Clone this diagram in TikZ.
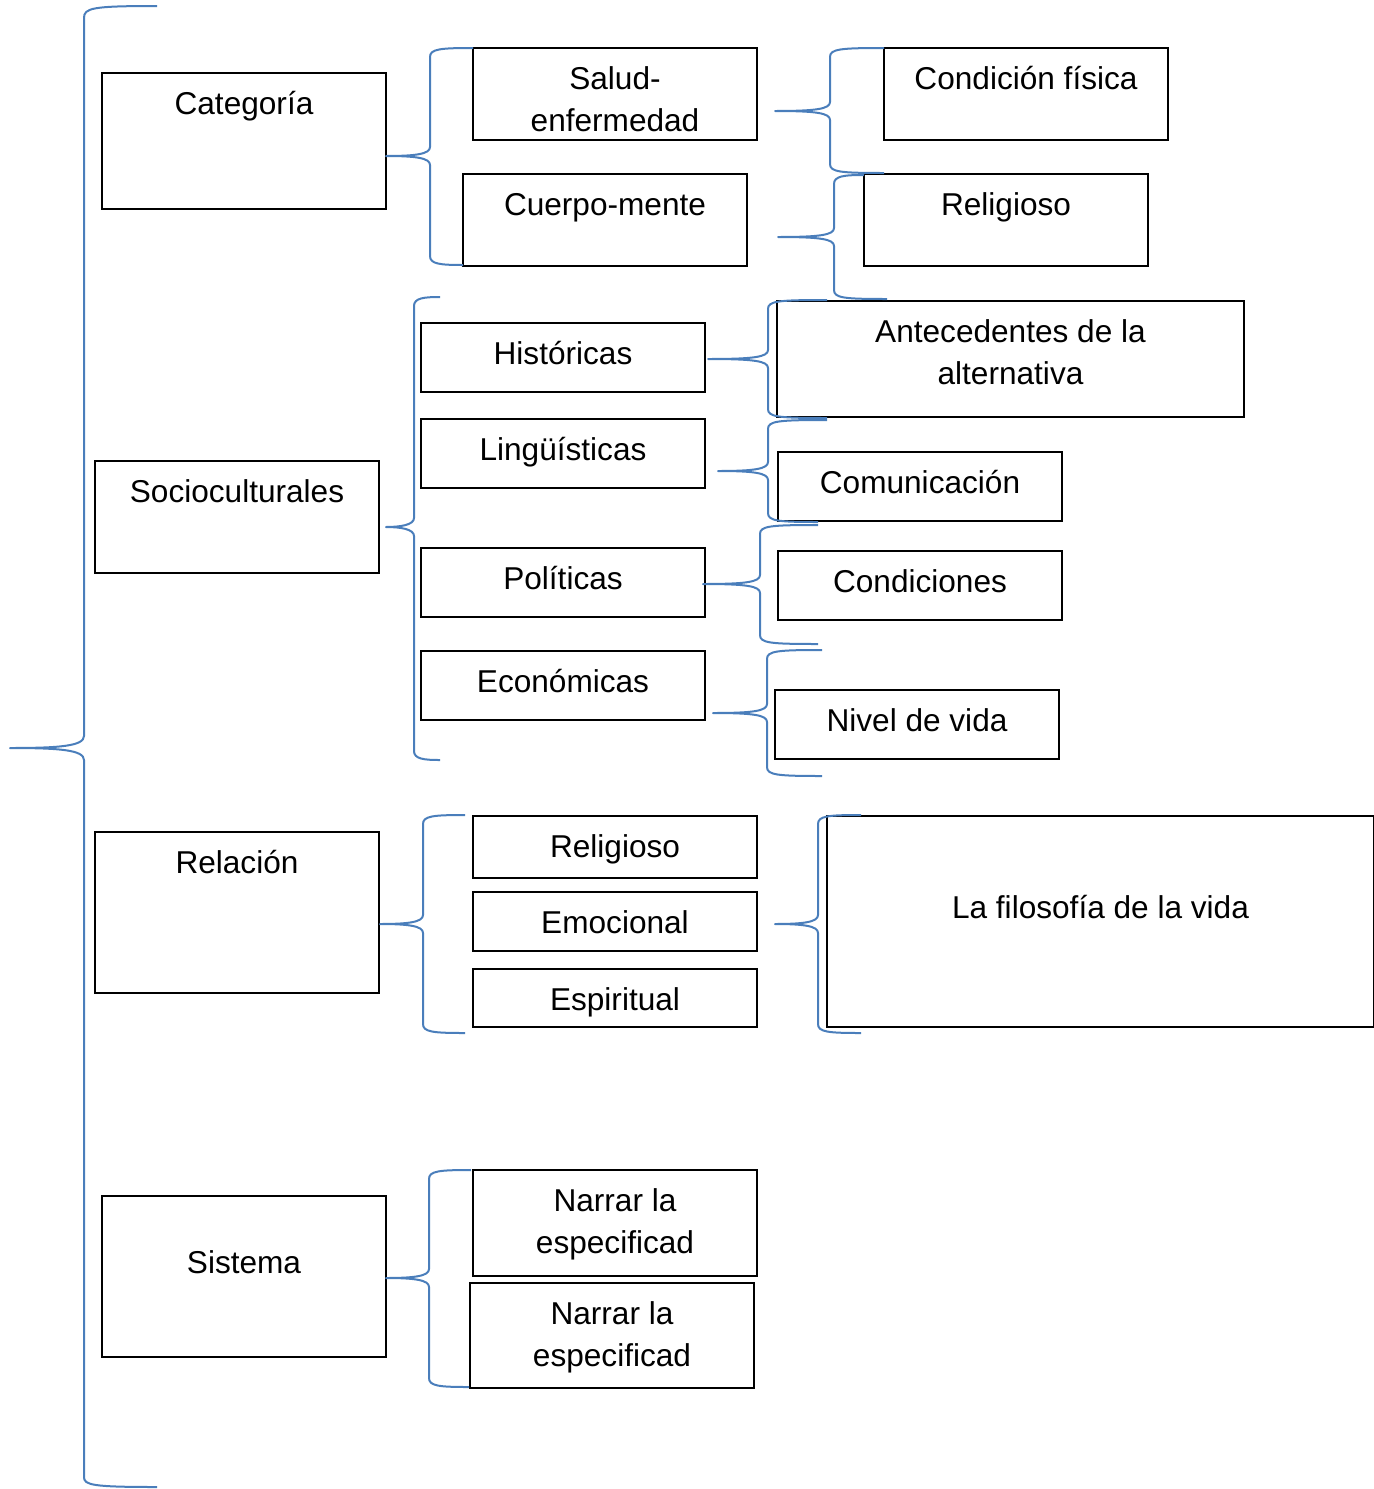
\documentclass[tikz,border=0pt]{standalone}
\usepackage{fontspec}
\setmainfont{Liberation Sans}
\usepackage{tikz}
\usepackage{xcolor}
\definecolor{azul}{RGB}{74,126,187}

\tikzset{
  caja/.style={draw, line width=0.75pt, inner sep=0pt, minimum width=142pt},
  txt/.style={anchor=base, yshift=-21pt, align=center, inner sep=0pt, font=\fontsize{15.8}{21}\selectfont},
  txtdos/.style={txt, yshift=-21pt},
  llave/.style={draw=azul, line width=1pt, line join=round}
}
% #1,#2 punta; #3 eje; #4,#5 brazo superior; #6,#7 brazo inferior
\newcommand{\corchete}[7]{%
  \draw[llave] (#5,#4) .. controls (#3+10,#4) and (#3,#4+1) .. (#3,#4+9)
    -- (#3,#2-9) .. controls (#3,#2-2) and (#3-14,#2) .. (#1,#2)
    .. controls (#3-14,#2) and (#3,#2+2) .. (#3,#2+9)
    -- (#3,#6-9) .. controls (#3,#6-1) and (#3+10,#6) .. (#7,#6);}

\begin{document}
\begin{tikzpicture}[x=0.5pt,y=-0.5pt]
        \useasboundingbox (0,0) rectangle (1374,1489);
        \node[caja, minimum height=68pt, label={[txt]north:Categoría}] (cat) at (244,141) {};
        \node[caja, minimum height=46pt, label={[txtdos]north:{Salud-\\enfermedad}}] (salud) at (615,94) {};
        \node[caja, minimum height=46pt, label={[txt]north:Cuerpo-mente}] (cuerpo) at (605,220) {};
        \node[caja, minimum height=46pt, label={[txt]north:Condición física}] (condfis) at (1026,94) {};
        \node[caja, minimum height=46pt, label={[txt]north:Religioso}] (relig) at (1006,220) {};
        \node[caja, minimum height=56pt, label={[txt]north:Socioculturales}] (socio) at (237,517) {};
        \node[caja, minimum height=34.5pt, label={[txt]north:Históricas}] (hist) at (563,357.5) {};
        \node[caja, minimum height=34.5pt, label={[txt]north:Lingüísticas}] (ling) at (563,453.5) {};
        \node[caja, minimum height=34.5pt, label={[txt]north:Políticas}] (pol) at (563,582.5) {};
        \node[caja, minimum height=34.5pt, label={[txt]north:Económicas}] (econ) at (563,685.5) {};
        \node[caja, minimum width=233.5pt, minimum height=58pt, label={[txtdos]north:{Antecedentes de la\\alternativa}}] (antec) at (1010.5,359) {};
        \node[caja, minimum height=34.5pt, label={[txt]north:Comunicación}] (comun) at (920,486.5) {};
        \node[caja, minimum height=34.5pt, label={[txt]north:Condiciones}] (condic) at (920,585.5) {};
        \node[caja, minimum height=34.5pt, label={[txt]north:Nivel de vida}] (nivel) at (917,724.5) {};
        \node[caja, minimum height=80.5pt, label={[txt]north:Relación}] (rel) at (237,912.5) {};
        \node[caja, minimum height=31pt, label={[txt]north:Religioso}] (relig2) at (615,847) {};
        \node[caja, minimum height=29.5pt, label={[txt]north:Emocional}] (emoc) at (615,921.5) {};
        \node[caja, minimum height=29pt, label={[txt]north:Espiritual}] (espir) at (615,998) {};
        \node[caja, minimum width=273.5pt, minimum height=105.5pt, label={[txt,yshift=-30.5pt]north:La filosofía de la vida}] (filo) at (1100.5,921.5) {};
        \node[caja, minimum height=80.5pt, label={[txt,yshift=-18pt]north:Sistema}] (sist) at (244,1276.5) {};
        \node[caja, minimum height=53pt, label={[txtdos]north:{Narrar la\\especificad}}] (narrA) at (615,1223) {};
        \node[caja, minimum height=52.5pt, label={[txtdos]north:{Narrar la\\especificad}}] (narrB) at (612,1335.5) {};
        \draw[llave] (157,6) .. controls (92,6) and (84,8) .. (84,18) -- (84,736) .. controls (84,746) and (60,748) .. (10,748)
          .. controls (60,748) and (84,750) .. (84,760) -- (84,1477) .. controls (84,1485) and (92,1487) .. (157,1487);
        \corchete{386}{156}{430}{48}{473}{265}{463}
        \corchete{775}{111}{830}{48}{884}{173}{884}
        \corchete{778}{237}{834}{175}{864}{299}{887}
        \corchete{386}{527}{414}{297}{440}{760}{440}
        \corchete{708}{359}{768}{300}{827}{418}{827}
        \corchete{718}{471}{768}{420}{827}{522}{818}
        \corchete{703}{584}{760}{525}{818}{644}{818}
        \corchete{713}{713}{767}{650}{822}{776}{822}
        \corchete{380}{924}{423}{815}{465}{1033}{465}
        \corchete{775}{924}{818}{815}{861}{1033}{861}
        \corchete{386}{1278}{429}{1170}{471}{1387}{469}
\end{tikzpicture}
\end{document}
